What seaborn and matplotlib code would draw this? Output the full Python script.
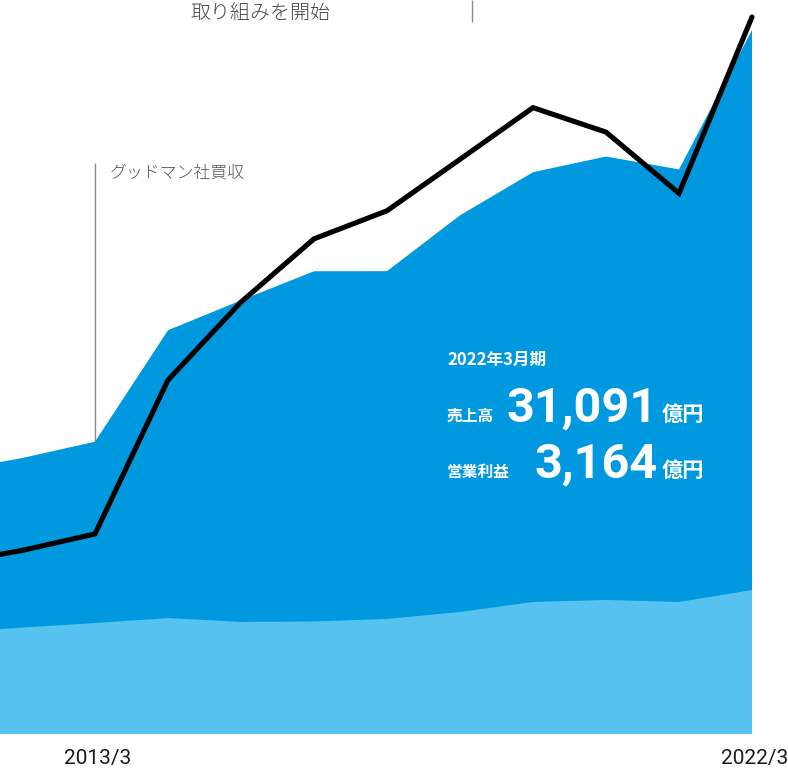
import numpy as np
import pandas as pd
import matplotlib
matplotlib.use("Agg")
import matplotlib.pyplot as plt
import matplotlib.transforms as mtransforms
import seaborn as sns

# Fiscal years ending in March
years = [2011, 2012, 2013, 2014, 2015, 2016, 2017, 2018, 2019, 2020, 2021, 2022]
# 売上高 (億円)
sales = [11603, 12187, 12909, 17831, 19151, 20437, 20440, 22906, 24811, 25503, 24934, 31091]
# 下層バンド (億円)
base_band = [4480, 4700, 4900, 5120, 4950, 4970, 5080, 5390, 5830, 5920, 5830, 6360]
# 営業利益 (億円)
op_profit = [752, 810, 883, 1562, 1906, 2185, 2309, 2536, 2764, 2656, 2386, 3164]

tick_years = [2013, 2022]
tick_labels = ["2013/3", "2022/3"]

W, H = 788, 769
DARK = "#0098DF"
LIGHT = "#56C2F0"

sns.set_theme(style="white")
plt.rcParams["font.family"] = ["Roboto", "Noto Sans CJK JP", "DejaVu Sans"]

df = pd.DataFrame({"year": years, "sales": sales, "band": base_band, "op": op_profit})

fig = plt.figure(figsize=(W / 100, H / 100), dpi=100, facecolor="white")
bottom_px = 734
ax = fig.add_axes([0, (H - bottom_px) / H, 1, bottom_px / H])
ax.set_facecolor("none")

x_left = 2013 - 95 / 73
x_right = 2013 + (W - 95) / 73
ax.set_xlim(x_left, x_right)
ax.set_ylim(0, 32416)

ax.fill_between(df["year"], 0, df["sales"], color=DARK, lw=0, zorder=1)
ax.fill_between(df["year"], 0, df["band"], color=LIGHT, lw=0, zorder=2)

# Event markers
ax.vlines(2013, df.loc[df.year == 2013, "sales"].iloc[0], 25220, color="#8a8a8a", lw=1.0, zorder=0)
ax.vlines(2018.16, 31440, 32416, color="#8a8a8a", lw=1.0, zorder=0)

ax2 = ax.twinx()
ax2.set_ylim(0, 3239)
sns.lineplot(data=df, x="year", y="op", ax=ax2, color="black", lw=3.7,
             solid_joinstyle="miter", solid_capstyle="round", zorder=5)

for a in (ax, ax2):
    for s in a.spines.values():
        s.set_visible(False)
    a.set_ylabel("")
    a.set_yticks([])
ax2.set_xlabel("")
ax.set_xlabel("")
ax.set_xticks(tick_years)
ax.set_xticklabels(tick_labels, fontsize=15, color="#1a1a1a", fontweight="normal",
                   family=["Roboto", "DejaVu Sans"])
ax.tick_params(axis="x", length=0, pad=11)
shift = mtransforms.ScaledTranslation(3 / 100, 0, fig.dpi_scale_trans)
for lbl in ax.get_xticklabels():
    lbl.set_transform(lbl.get_transform() + shift)
ax.set_xlim(x_left, x_right)


def fx(px):
    return px / W


def fy(py):
    return 1 - py / H


jp = ["Noto Sans CJK JP", "DejaVu Sans"]
fig.text(fx(110), fy(173), "グッドマン社買収", family=jp, fontsize=12.2, color="#555555",
         va="center", ha="left", fontweight="light")
fig.text(fx(260), fy(13), "取り組みを開始", family=jp, fontsize=14.4, color="#444444",
         va="center", ha="center", fontweight="light")

fig.text(fx(447), fy(365), "2022年3月期", family=jp, fontsize=12, color="white",
         fontweight="bold", va="baseline", ha="left")
fig.text(fx(447), fy(421), "売上高", family=jp, fontsize=11.3, color="white",
         fontweight="bold", va="baseline", ha="left")
fig.text(fx(447), fy(477), "営業利益", family=jp, fontsize=11.3, color="white",
         fontweight="bold", va="baseline", ha="left")

num = ["Roboto", "DejaVu Sans"]
fig.text(fx(658), fy(422), f"{sales[-1]:,}", family=num, fontsize=35, color="white",
         fontweight="bold", va="baseline", ha="right")
fig.text(fx(658), fy(478), f"{op_profit[-1]:,}", family=num, fontsize=35, color="white",
         fontweight="bold", va="baseline", ha="right")
fig.text(fx(662), fy(421), "億円", family=jp, fontsize=15.3, color="white",
         fontweight="bold", va="baseline", ha="left")
fig.text(fx(662), fy(477), "億円", family=jp, fontsize=15.3, color="white",
         fontweight="bold", va="baseline", ha="left")

fig.savefig("out.png", dpi=100, facecolor="white")
